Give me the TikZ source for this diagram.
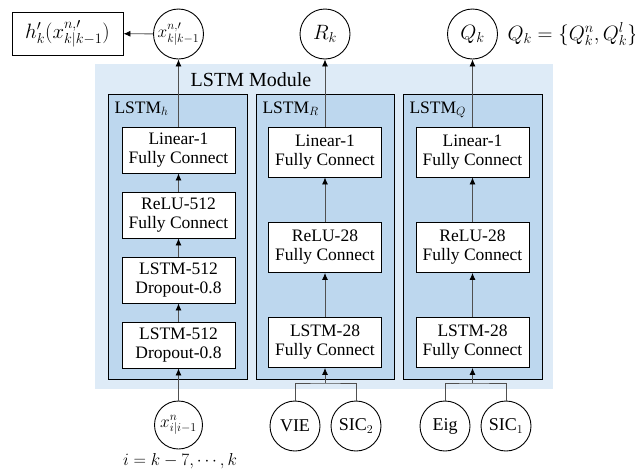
\documentclass[tikz,border=0pt]{standalone}
\usepackage{fontspec}
\setmainfont{Liberation Serif}
\usetikzlibrary{arrows.meta}
\definecolor{modblue}{HTML}{DEEBF7}
\definecolor{colblue}{HTML}{BDD7EE}
\definecolor{wire}{HTML}{505050}

\begin{document}
\begin{tikzpicture}[x=1pt,y=-1pt,
  layer/.style={draw,fill=white,line width=0.9pt,minimum width=113pt,inner sep=0pt,
    align=center,font=\fontsize{17.5}{19}\selectfont},
  hlayer/.style={layer,minimum height=46pt},
  qlayer/.style={layer,minimum height=50pt},
  var/.style={draw,circle,line width=0.9pt,minimum size=50pt,inner sep=0pt,
    font=\fontsize{18}{20}\selectfont},
  colbox/.style={draw,fill=colblue,line width=0.9pt},
  flow/.style={wire,line width=0.8pt,-{Latex[length=7pt,width=6pt,color=black]}},
  wires/.style={wire,line width=0.8pt}]
\useasboundingbox (0,0) rectangle (635,472);
% MODULE AND COLUMN BACKGROUNDS
\fill [modblue] (95,64) rectangle (553,389);
\node [font=\fontsize{20}{22}\selectfont] (modlabel) at (251,80) {LSTM Module};
\draw [colbox] (108,94) rectangle (247,379);
\draw [colbox] (256,94) rectangle (394,379);
\draw [colbox] (403,94) rectangle (542,379);
\node [anchor=base west,font=\fontsize{17.5}{18}\selectfont] (hname) at (111,113) {LSTM$_h$};
\node [anchor=base west,font=\fontsize{17.5}{18}\selectfont] (rname) at (259,113) {LSTM$_R$};
\node [anchor=base west,font=\fontsize{17.5}{18}\selectfont] (qname) at (406,113) {LSTM$_Q$};
% LSTM_h LAYERS
\node [hlayer] (hlin)  at (178.5,150) {Linear-1\\Fully Connect};
\node [hlayer] (hrelu) at (178.5,215) {ReLU-512\\Fully Connect};
\node [hlayer] (hmema) at (178.5,280) {LSTM-512\\Dropout-0.8};
\node [hlayer] (hmemb) at (178.5,345) {LSTM-512\\Dropout-0.8};
% LSTM_R LAYERS
\node [qlayer] (rlin)  at (325,152) {Linear-1\\Fully Connect};
\node [qlayer] (rrelu) at (325,247.5) {ReLU-28\\Fully Connect};
\node [qlayer] (rmem)  at (325,342.5) {LSTM-28\\Fully Connect};
% LSTM_Q LAYERS
\node [qlayer] (qlin)  at (472.5,152) {Linear-1\\Fully Connect};
\node [qlayer] (qrelu) at (472.5,247.5) {ReLU-28\\Fully Connect};
\node [qlayer] (qmem)  at (472.5,342.5) {LSTM-28\\Fully Connect};
% OUTPUTS
\node [var,font=\fontsize{18}{20}\selectfont] (xout) at (178.5,34) {$x^{n,\prime}_{k|k-1}$};
\node [var,font=\fontsize{21}{23}\selectfont] (rout) at (325,34) {$R_k$};
\node [var,font=\fontsize{21}{23}\selectfont] (qout) at (472.5,34) {$Q_k$};
\node [draw,line width=0.9pt,minimum width=111pt,minimum height=43pt,inner sep=0pt,
  font=\fontsize{22}{24}\selectfont] (hout) at (67.5,33.5) {$h^{\prime}_k(x^{n,\prime}_{k|k-1})$};
\node [anchor=west,font=\fontsize{21}{23}\selectfont] (qdef) at (504,34) {$Q_k=\{Q_k^n,Q_k^l\}$};
% INPUTS
\node [var,minimum size=48pt,font=\fontsize{18}{20}\selectfont] (xin) at (178.5,425) {$x^{n}_{i|i-1}$};
\node [font=\fontsize{18}{20}\selectfont] (range) at (180,461) {$i=k-7,\cdots,k$};
\node [var] (vie)  at (295,426) {VIE};
\node [var] (sicb) at (356,426) {SIC$_2$};
\node [var] (eig)  at (445,426) {Eig};
\node [var] (sica) at (506,426) {SIC$_1$};
\coordinate (rjoin) at (325,383);
\coordinate (qjoin) at (472.5,383);
% CONNECTORS
\draw [flow] (xin) -- (hmemb);
\draw [flow] (hmemb) -- (hmema);
\draw [flow] (hmema) -- (hrelu);
\draw [flow] (hrelu) -- (hlin);
\draw [flow] (hlin) -- (xout);
\draw [flow] (xout) -- (hout);
\draw [wires] (vie) |- (rjoin) -| (sicb);
\draw [flow] (rjoin) -- (rmem);
\draw [flow] (rmem) -- (rrelu);
\draw [flow] (rrelu) -- (rlin);
\draw [flow] (rlin) -- (rout);
\draw [wires] (eig) |- (qjoin) -| (sica);
\draw [flow] (qjoin) -- (qmem);
\draw [flow] (qmem) -- (qrelu);
\draw [flow] (qrelu) -- (qlin);
\draw [flow] (qlin) -- (qout);
\end{tikzpicture}
\end{document}
